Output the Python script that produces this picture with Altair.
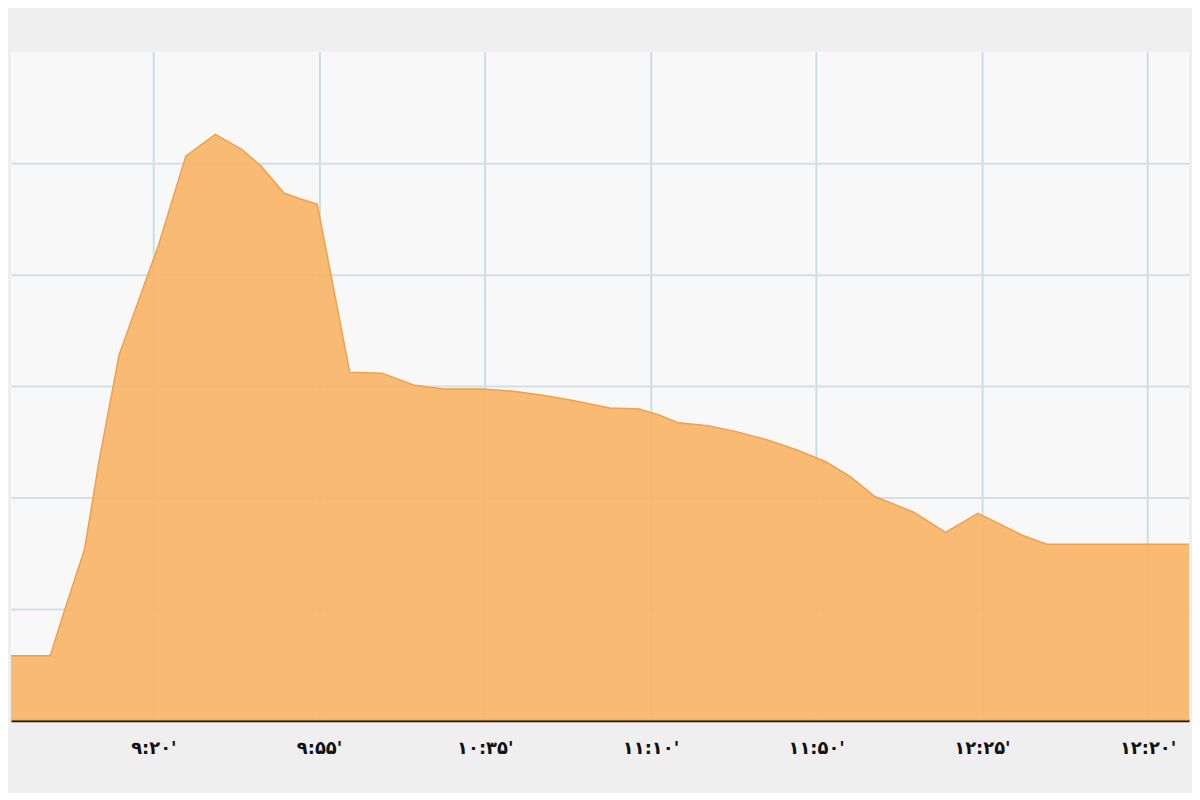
import json
import altair as alt
import pandas as pd

# x position in tick-units (tick k carries tick_labels[k-1]), y value in grid units
x_pos = [0.141, 0.378, 0.467, 0.585, 0.674, 0.793, 0.911, 1.030, 1.196, 1.374,
         1.533, 1.652, 1.788, 1.889, 1.989, 2.185, 2.380, 2.570, 2.747, 2.984,
         3.162, 3.340, 3.518, 3.755, 3.932, 4.051, 4.169, 4.347, 4.525, 4.702,
         4.880, 5.058, 5.206, 5.354, 5.473, 5.591, 5.781, 5.976, 6.124, 6.243,
         6.391, 7.250]
values = [0.580, 0.580, 1.000, 1.536, 2.339, 3.277, 3.768, 4.259, 5.063, 5.259,
          5.125, 4.973, 4.732, 4.679, 4.634, 3.125, 3.116, 3.009, 2.973, 2.973,
          2.955, 2.920, 2.875, 2.804, 2.795, 2.741, 2.670, 2.643, 2.589, 2.518,
          2.429, 2.321, 2.188, 2.009, 1.938, 1.866, 1.688, 1.857, 1.750, 1.661,
          1.580, 1.580]
tick_labels = ["۹:۲۰'", "۹:۵۵'", "۱۰:۳۵'", "۱۱:۱۰'", "۱۱:۵۰'", "۱۲:۲۵'", "۱۲:۲۰'"]
tick_values = [1, 2, 3, 4, 5, 6, 7]
y_grid = [1, 2, 3, 4, 5]

df = pd.DataFrame({"x": x_pos, "v": values})

label_expr = "[" + ",".join(json.dumps(l, ensure_ascii=False) for l in tick_labels) + "][datum.value - 1]"

area = alt.Chart(df).mark_area(
    color="#f8b468", fillOpacity=0.92, line={"color": "#f0a04a", "strokeWidth": 1.5}
).encode(
    x=alt.X("x:Q",
            scale=alt.Scale(domain=[0.141, 7.25], nice=False, zero=False),
            axis=alt.Axis(values=tick_values, labelExpr=label_expr, title=None,
                          grid=True, gridColor="#c9dfe6", gridWidth=2,
                          ticks=False, domain=True, domainColor="#24160c",
                          domainWidth=3, labelPadding=19, labelFont="DejaVu Sans",
                          labelFontSize=18, labelFontWeight="bold",
                          labelColor="#111111", labelFlush=False)),
    y=alt.Y("v:Q",
            scale=alt.Scale(domain=[0, 6], nice=False),
            axis=alt.Axis(values=y_grid, title=None, labels=False, ticks=False,
                          domain=False, grid=True, gridColor="#d0e0e6",
                          gridWidth=2)),
)

chart = area.properties(
    width=1184, height=672,
    background="#efefef",
    padding={"left": 0, "right": 0, "top": 42, "bottom": 34},
).configure_view(stroke=None, fill="#f8f8f8")

chart.save("out.html", embed_options={"renderer": "svg", "actions": False})
